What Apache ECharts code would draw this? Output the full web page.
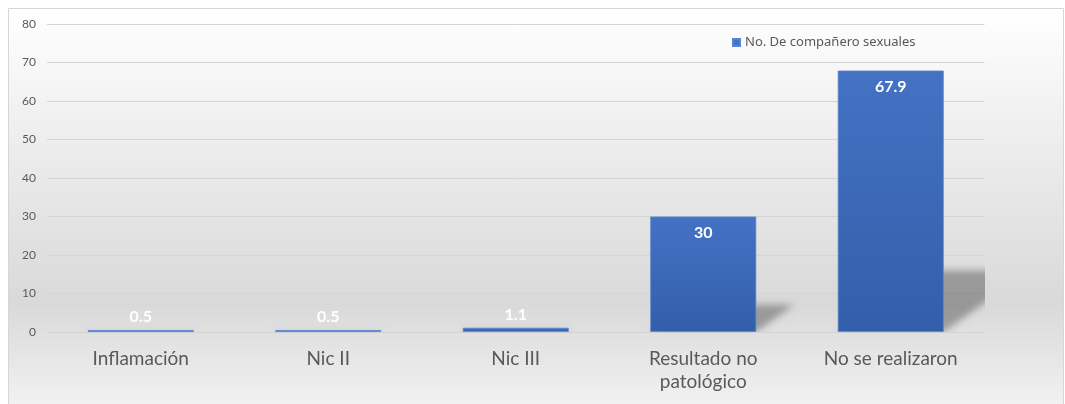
<!DOCTYPE html>
<html>
<head>
<meta charset="utf-8">
<script src="https://cdn.jsdelivr.net/npm/echarts@6/dist/echarts.min.js"></script>
<style>
html,body{margin:0;padding:0;background:#fff;}
#chart{width:1065px;height:404px;}
</style>
</head>
<body>
<div id="chart"></div>
<script>
const categories = ['Inflamación', 'Nic II', 'Nic III', 'Resultado no\npatológico', 'No se realizaron'];
const values = [0.5, 0.5, 1.1, 30, 67.9];
const seriesName = 'No. De compañero sexuales';
const yTicks = [0, 10, 20, 30, 40, 50, 60, 70, 80];

const chart = echarts.init(document.getElementById('chart'));
const BAR_RATIO = 0.565;
const OFF = 3000;

const option = {
  animation: false,
  backgroundColor: '#ffffff',
  graphic: [{
    type: 'rect',
    z: -10,
    silent: true,
    shape: { x: 8.5, y: 8.5, width: 1055, height: 410 },
    style: {
      fill: new echarts.graphic.LinearGradient(0, 0, 0, 1, [
        { offset: 0, color: '#ffffff' },
        { offset: 0.35, color: '#ececec' },
        { offset: 0.72, color: '#d9d9d9' },
        { offset: 0.85, color: '#e6e6e6' },
        { offset: 1, color: '#f4f4f4' }
      ]),
      stroke: '#d6d6d6',
      lineWidth: 1
    }
  }],
  legend: {
    show: true,
    left: 727,
    top: 31,
    itemWidth: 7,
    itemHeight: 7,
    itemGap: 5,
    icon: 'rect',
    textStyle: { fontSize: 13, color: '#595959', fontFamily: 'Noto Sans' }
  },
  grid: { left: 47, right: 80.5, top: 24, bottom: 72, containLabel: false },
  xAxis: {
    type: 'category',
    data: categories,
    axisLine: { show: false },
    axisTick: { show: false },
    axisLabel: {
      fontSize: 19,
      color: '#595959',
      fontFamily: 'Lato',
      margin: 15,
      lineHeight: 23,
      interval: 0
    }
  },
  yAxis: {
    type: 'value',
    min: 0,
    max: 80,
    interval: 10,
    axisLine: { show: false },
    axisTick: { show: false },
    axisLabel: {
      fontSize: 12,
      color: '#595959',
      fontFamily: 'Lato',
      margin: 11,
      formatter: function (v) { return yTicks.indexOf(v) >= 0 ? String(v) : ''; }
    },
    splitLine: { lineStyle: { color: '#d4d4d4', width: 1 } }
  },
  series: [
    {
      type: 'custom',
      name: 'shadow',
      clip: true,
      z: 1,
      silent: true,
      legendHoverLink: false,
      data: values.map((v, i) => [i, v]),
      renderItem: function (params, api) {
        const idx = api.value(0);
        const val = api.value(1);
        const base = api.coord([idx, 0]);
        const band = api.size([1, 0])[0];
        const bw = band * BAR_RATIO;
        const xl = base[0] - bw / 2 - OFF;
        const xr = base[0] + bw / 2 - OFF;
        const h = api.size([0, val])[1] * 0.235;
        const dx = h * 1.4;
        return {
          type: 'polygon',
          shape: { points: [[xl, base[1]], [xr, base[1]], [xr + dx, base[1] - h], [xl + dx, base[1] - h]] },
          style: {
            fill: '#000',
            shadowBlur: 7,
            shadowOffsetX: OFF,
            shadowOffsetY: 0,
            shadowColor: 'rgba(0,0,0,0.3)'
          }
        };
      }
    },
    {
      type: 'bar',
      name: seriesName,
      z: 2,
      barWidth: (BAR_RATIO * 100) + '%',
      data: values.map(v => ({
        value: v,
        label: v < 5 ? { position: 'top', distance: 5 } : { position: 'insideTop', distance: 8 }
      })),
      itemStyle: {
        color: new echarts.graphic.LinearGradient(0, 0, 0, 1, [
          { offset: 0, color: '#4472c4' },
          { offset: 1, color: '#335ea9' }
        ]),
        borderColor: '#5a84cf',
        borderWidth: 0.8
      },
      label: {
        show: true,
        color: '#ffffff',
        fontSize: 16,
        fontWeight: 'bold',
        fontFamily: 'Lato'
      }
    }
  ]
};
option.legend.data = [{ name: seriesName, itemStyle: { color: '#4472c4' } }];
chart.setOption(option);
</script>
</body>
</html>
